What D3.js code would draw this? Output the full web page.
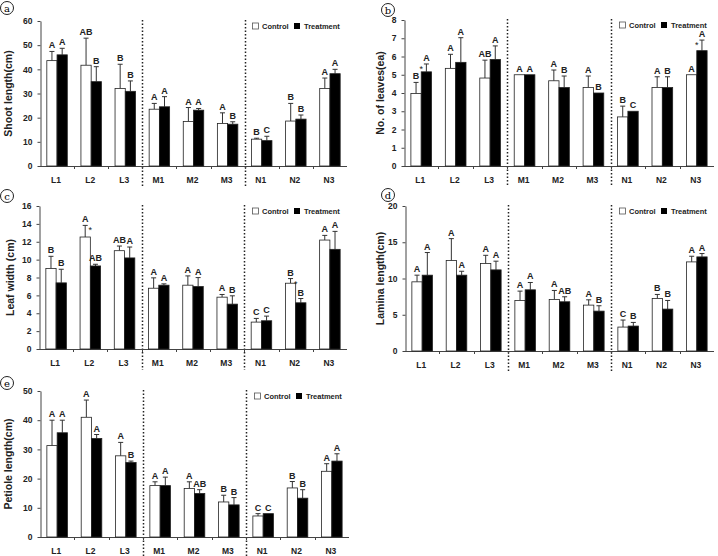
<!doctype html>
<html>
<head>
<meta charset="utf-8">
<script src="https://cdn.jsdelivr.net/npm/d3@7"></script>
<style>
body { margin: 0; background: #fff; }
text { font-family: "Liberation Sans", Arial, sans-serif; }
</style>
</head>
<body>
<div id="viz"></div>
<script>

var categories = ['L1', 'L2', 'L3', 'M1', 'M2', 'M3', 'N1', 'N2', 'N3'];
var seriesNames = ['Control', 'Treatment'];

// (a) shoot length
var shootCtrl    = [43.6, 41.7, 32.1, 23.5, 18.4, 17.6, 11.1, 18.6, 32.1];
var shootCtrlErr = [3.8, 11.2, 10.0, 2.4, 5.8, 4.4, 0.4, 7.3, 4.3];
var shootTrt     = [46.0, 34.9, 30.9, 24.5, 23.1, 17.3, 10.5, 19.4, 38.2];
var shootTrtErr  = [2.7, 6.2, 4.3, 4.2, 0.7, 1.0, 1.8, 1.7, 1.8];
var shootCtrlSig = ['A', 'AB', 'B', 'A', 'A', 'A', 'B', 'B', 'A'];
var shootTrtSig  = ['A', 'B', 'B', 'A', 'A', 'B', 'C', 'B', 'A'];
var shootStars   = [];

// (b) number of leaves
var leavesCtrl    = [3.97, 5.35, 4.82, 5.0, 4.67, 4.3, 2.69, 4.3, 5.0];
var leavesCtrlErr = [0.61, 0.77, 0.98, 0, 0.59, 0.63, 0.59, 0.59, 0];
var leavesTrt     = [5.16, 5.68, 5.84, 5.0, 4.3, 4.0, 3.0, 4.3, 6.32];
var leavesTrtErr  = [0.43, 1.35, 0.74, 0, 0.63, 0, 0, 0.59, 0.58];
var leavesCtrlSig = ['B', 'A', 'AB', 'A', 'A', 'A', 'B', 'A', 'A'];
var leavesTrtSig  = ['A', 'A', 'A', 'A', 'B', 'B', 'C', 'B', 'A'];
var leavesStars   = ['L1', 'N3'];

// (c) leaf width
var widthCtrl    = [9.0, 12.53, 11.0, 6.8, 7.14, 5.8, 3.01, 7.36, 12.19];
var widthCtrlErr = [1.37, 1.3, 0.52, 1.16, 1.04, 0.3, 0.41, 0.52, 0.52];
var widthTrt     = [7.4, 9.29, 10.19, 7.14, 6.99, 5.02, 3.16, 5.17, 11.15];
var widthTrtErr  = [1.52, 0.19, 1.22, 0.15, 1.0, 0.93, 0.52, 0.48, 2.01];
var widthCtrlSig = ['B', 'A', 'AB', 'A', 'A', 'A', 'C', 'B', 'A'];
var widthTrtSig  = ['B', 'AB', 'A', 'A', 'A', 'B', 'C', 'B', 'A'];
var widthStars   = ['L2', 'N2'];

// (d) lamina length
var laminaCtrl    = [9.54, 12.48, 12.06, 6.97, 7.11, 6.33, 3.3, 7.25, 12.29];
var laminaCtrlErr = [0.92, 3.02, 1.14, 1.29, 1.24, 0.73, 0.97, 0.55, 0.78];
var laminaTrt     = [10.46, 10.46, 11.19, 8.44, 6.79, 5.5, 3.44, 5.78, 12.98];
var laminaTrtErr  = [3.12, 0.54, 1.2, 1.01, 0.69, 0.74, 0.5, 1.19, 0.46];
var laminaCtrlSig = ['A', 'A', 'A', 'A', 'A', 'A', 'C', 'B', 'A'];
var laminaTrtSig  = ['A', 'A', 'A', 'A', 'AB', 'B', 'B', 'B', 'A'];
var laminaStars   = [];

// (e) petiole length
var petioleCtrl    = [31.3, 41.0, 27.8, 17.6, 16.6, 12.0, 7.2, 16.8, 22.5];
var petioleCtrlErr = [8.7, 5.9, 4.6, 1.3, 2.3, 2.3, 0.8, 2.2, 2.6];
var petioleTrt     = [35.7, 33.75, 25.5, 17.6, 14.9, 11.0, 8.0, 13.3, 26.0];
var petioleTrtErr  = [4.3, 1.35, 0.5, 2.9, 1.3, 2.5, 0, 2.9, 2.5];
var petioleCtrlSig = ['A', 'A', 'A', 'A', 'A', 'B', 'C', 'B', 'A'];
var petioleTrtSig  = ['A', 'A', 'B', 'A', 'AB', 'B', 'C', 'B', 'A'];
var petioleStars   = [];

var panels = [
  { tag: 'a', title: 'Shoot length(cm)', max: 60, step: 10,
    ctrl: shootCtrl, ctrlErr: shootCtrlErr, trt: shootTrt, trtErr: shootTrtErr,
    ctrlSig: shootCtrlSig, trtSig: shootTrtSig, stars: shootStars,
    left: 40, right: 347, top: 21, bottom: 166, titleX: 8, circle: [7, 8] },
  { tag: 'b', title: 'No. of leaves(ea)', max: 8, step: 1,
    ctrl: leavesCtrl, ctrlErr: leavesCtrlErr, trt: leavesTrt, trtErr: leavesTrtErr,
    ctrlSig: leavesCtrlSig, trtSig: leavesTrtSig, stars: leavesStars,
    left: 404, right: 714, top: 20, bottom: 166, titleX: 380, circle: [388, 10] },
  { tag: 'c', title: 'Leaf width (cm)', max: 16, step: 2,
    ctrl: widthCtrl, ctrlErr: widthCtrlErr, trt: widthTrt, trtErr: widthTrtErr,
    ctrlSig: widthCtrlSig, trtSig: widthTrtSig, stars: widthStars,
    left: 39, right: 347, top: 206, bottom: 349, titleX: 10, circle: [7, 196] },
  { tag: 'd', title: 'Lamina length(cm)', max: 20, step: 5,
    ctrl: laminaCtrl, ctrlErr: laminaCtrlErr, trt: laminaTrt, trtErr: laminaTrtErr,
    ctrlSig: laminaCtrlSig, trtSig: laminaTrtSig, stars: laminaStars,
    left: 405, right: 714, top: 206, bottom: 351, titleX: 380, circle: [388, 195] },
  { tag: 'e', title: 'Petiole length(cm)', max: 50, step: 10,
    ctrl: petioleCtrl, ctrlErr: petioleCtrlErr, trt: petioleTrt, trtErr: petioleTrtErr,
    ctrlSig: petioleCtrlSig, trtSig: petioleTrtSig, stars: petioleStars,
    left: 40, right: 349, top: 391, bottom: 537, titleX: 8, circle: [7, 383] }
];

var svg = d3.select('#viz').append('svg')
  .attr('width', 718)
  .attr('height', 556)

function drawPanel(p) {
  var g = svg.append('g');
  var x = d3.scaleBand().domain(categories).range([p.left, p.right]);
  var y = d3.scaleLinear().domain([0, p.max]).range([p.bottom, p.top]);
  var bw = x.bandwidth() * 0.3;

  // panel letter in a circle
  g.append('circle')
    .attr('cx', p.circle[0]).attr('cy', p.circle[1]).attr('r', 6.5)
    .style('fill', 'none').style('stroke', '#222').style('stroke-width', 1);
  g.append('text')
    .attr('x', p.circle[0]).attr('y', p.circle[1] + 3.5)
    .attr('text-anchor', 'middle')
    .style('font-family', '"DejaVu Serif", serif')
    .style('font-size', '10px')
    .text(p.tag);

  // dotted separators
  [3, 6].forEach(function(i) {
    var sx = Math.round(x(categories[i])) + 0.5;
    g.append('line')
      .attr('x1', sx).attr('x2', sx)
      .attr('y1', p.top - 1).attr('y2', p.bottom + 21)
      .style('stroke', '#222').style('stroke-width', 1.5)
      .style('stroke-dasharray', '1.5,2');
  });

  // y axis
  var yAxis = d3.axisLeft(y)
    .tickValues(d3.range(0, p.max + p.step / 2, p.step))
    .tickSize(3).tickSizeOuter(0).tickPadding(5);
  var ya = g.append('g').attr('transform', 'translate(' + (p.left + 0.5) + ',0)').call(yAxis);
  ya.selectAll('text').style('font-size', '8.5px').style('font-weight', 'bold').style('fill', '#222');
  ya.selectAll('path, line').style('stroke', '#444');

  // x axis
  g.append('line')
    .attr('x1', p.left).attr('x2', p.right)
    .attr('y1', p.bottom + 0.5).attr('y2', p.bottom + 0.5)
    .style('stroke', '#444');
  g.selectAll('.xtick')
    .data(categories.slice(1))
    .enter().append('line')
    .attr('x1', function(d) { return Math.round(x(d)) + 0.5; })
    .attr('x2', function(d) { return Math.round(x(d)) + 0.5; })
    .attr('y1', p.bottom).attr('y2', p.bottom + 3)
    .style('stroke', '#444');
  g.selectAll('.xlab')
    .data(categories)
    .enter().append('text')
    .attr('x', function(d) { return x(d) + x.bandwidth() / 2 - 1; })
    .attr('y', p.bottom + 17)
    .attr('text-anchor', 'middle')
    .style('font-size', '8.5px').style('font-weight', 'bold').style('fill', '#222')
    .text(function(d) { return d; });

  // y title
  g.append('text')
    .attr('transform', 'translate(' + (p.titleX + 4) + ',' + ((p.top + p.bottom) / 2) + ') rotate(-90)')
    .attr('text-anchor', 'middle')
    .style('font-size', '10.5px').style('font-weight', 'bold').style('fill', '#222')
    .text(p.title);

  // bars, error bars, letters
  var series = [
    { vals: p.ctrl, errs: p.ctrlErr, sig: p.ctrlSig, fill: '#fff', off: -bw },
    { vals: p.trt, errs: p.trtErr, sig: p.trtSig, fill: '#000', off: 0 }
  ];
  series.forEach(function(s) {
    var rows = categories.map(function(c, i) {
      return { cat: c, v: s.vals[i], e: s.errs[i], sig: s.sig[i] };
    });
    var cx = function(d) { return x(d.cat) + x.bandwidth() / 2 + s.off + bw / 2; };

    g.selectAll(null).data(rows).enter().append('line')
      .filter(function(d) { return d.e > 0; })
      .attr('x1', cx).attr('x2', cx)
      .attr('y1', function(d) { return y(d.v); })
      .attr('y2', function(d) { return y(d.v + d.e); })
      .style('stroke', '#333').style('stroke-width', 1);
    g.selectAll(null).data(rows).enter().append('line')
      .filter(function(d) { return d.e > 0; })
      .attr('x1', function(d) { return cx(d) - 2.5; })
      .attr('x2', function(d) { return cx(d) + 2.5; })
      .attr('y1', function(d) { return y(d.v + d.e); })
      .attr('y2', function(d) { return y(d.v + d.e); })
      .style('stroke', '#333').style('stroke-width', 1);

    g.selectAll(null).data(rows).enter().append('rect')
      .attr('x', function(d) { return x(d.cat) + x.bandwidth() / 2 + s.off; })
      .attr('y', function(d) { return y(d.v); })
      .attr('width', bw)
      .attr('height', function(d) { return p.bottom - y(d.v); })
      .style('fill', s.fill).style('stroke', '#222').style('stroke-width', 0.8);

    g.selectAll(null).data(rows).enter().append('text')
      .attr('x', cx)
      .attr('y', function(d) { return y(d.v + d.e) - 3; })
      .attr('text-anchor', 'middle')
      .style('font-size', '9px').style('font-weight', 'bold').style('fill', '#222')
      .text(function(d) { return d.sig; });
  });

  // significance stars
  g.selectAll(null).data(p.stars).enter().append('text')
    .attr('x', function(d) { return x(d) + x.bandwidth() / 2; })
    .attr('y', function(d) {
      var i = categories.indexOf(d);
      var top = Math.max(p.ctrl[i] + p.ctrlErr[i], p.trt[i] + p.trtErr[i]);
      return y(top) + 8;
    })
    .attr('text-anchor', 'middle')
    .style('font-size', '9px').style('fill', '#222')
    .text('*');

  // legend
  var lg = g.append('g').attr('transform', 'translate(' + (p.right - 95) + ',' + (p.top + 5) + ')');
  lg.append('rect').attr('x', 0.5).attr('y', -3).attr('width', 6).attr('height', 6)
    .style('fill', '#fff').style('stroke', '#555').style('stroke-width', 0.8);
  lg.append('text').attr('x', 10).attr('y', 3)
    .style('font-size', '7.5px').style('font-weight', 'bold').style('fill', '#222')
    .text(seriesNames[0]);
  lg.append('rect').attr('x', 42).attr('y', -3).attr('width', 6).attr('height', 6)
    .style('fill', '#000');
  lg.append('text').attr('x', 52).attr('y', 3)
    .style('font-size', '7.5px').style('font-weight', 'bold').style('fill', '#222')
    .text(seriesNames[1]);
}

panels.forEach(drawPanel);

</script>
</body>
</html>
